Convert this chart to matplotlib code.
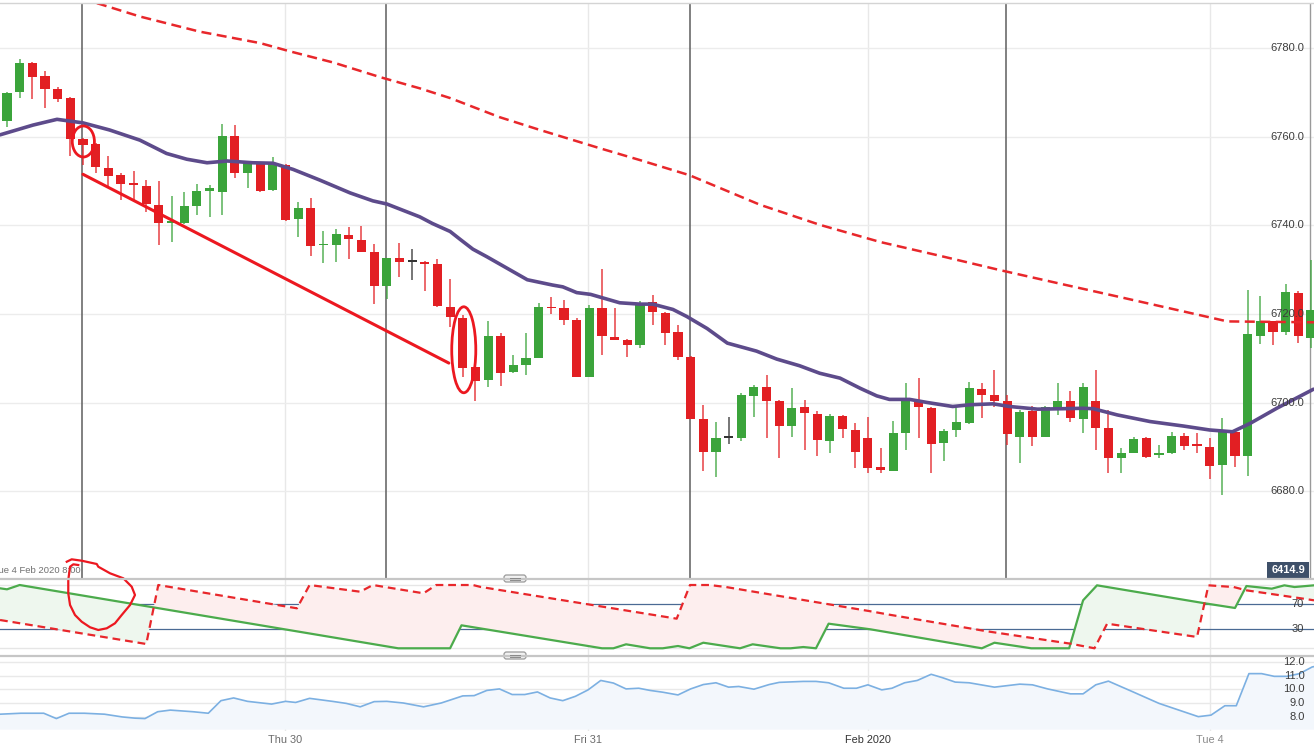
import numpy as np
import matplotlib
matplotlib.use("Agg")
import matplotlib.pyplot as plt
from matplotlib.patches import Ellipse, Rectangle, FancyBboxPatch
from matplotlib.lines import Line2D
from matplotlib.transforms import IdentityTransform

plt.rcParams['font.family'] = ['Liberation Sans', 'DejaVu Sans']

W, H = 1314, 752

# ------------------------------------------------------------
# 数据 (hourly candles, index 0..103)
# ------------------------------------------------------------
opens = [6763.6, 6770.1, 6776.7, 6773.7, 6770.8, 6768.7, 6759.4, 6758.3, 6753.0, 6751.3,
         6749.6, 6748.9, 6744.6, 6740.5, 6740.5, 6744.4, 6747.8, 6747.4, 6760.1, 6751.9,
         6753.8, 6748.0, 6753.6, 6741.4, 6744.0, 6735.5, 6735.6, 6737.8, 6736.7, 6734.0,
         6726.3, 6732.6, 6731.8, 6731.7, 6731.3, 6721.6, 6719.0, 6707.9, 6705.1, 6715.0,
         6706.8, 6708.5, 6710.0, 6721.6, 6721.3, 6718.6, 6705.8, 6721.3, 6714.7, 6714.1,
         6713.0, 6722.7, 6720.3, 6715.9, 6710.2, 6696.2, 6688.9, 6692.0, 6692.1, 6701.4,
         6703.5, 6700.4, 6694.6, 6698.9, 6697.4, 6691.3, 6697.0, 6693.7, 6692.0, 6685.4,
         6684.6, 6693.1, 6700.6, 6698.7, 6690.8, 6693.8, 6695.3, 6703.0, 6701.7, 6700.4,
         6692.3, 6698.1, 6692.3, 6698.5, 6700.4, 6696.2, 6700.4, 6694.3, 6687.4, 6688.6,
         6692.0, 6688.2, 6688.6, 6692.5, 6690.3, 6689.9, 6685.9, 6693.4, 6688.0, 6715.1,
         6718.3, 6715.8, 6724.7, 6714.6]
highs = [6770.0, 6777.5, 6776.9, 6774.7, 6771.1, 6768.9, 6759.6, 6758.5, 6755.6, 6751.7,
         6752.3, 6750.2, 6750.0, 6746.5, 6747.6, 6749.3, 6749.1, 6762.9, 6762.6, 6754.5,
         6754.0, 6755.5, 6753.8, 6745.3, 6746.1, 6738.6, 6739.1, 6739.6, 6739.8, 6735.8,
         6732.6, 6735.9, 6734.6, 6731.9, 6732.4, 6727.8, 6719.8, 6708.1, 6718.3, 6715.6,
         6710.7, 6715.6, 6722.4, 6723.8, 6723.1, 6719.0, 6722.0, 6730.1, 6721.4, 6714.3,
         6722.9, 6724.3, 6720.5, 6717.5, 6710.6, 6699.5, 6695.5, 6696.7, 6702.1, 6704.0,
         6706.2, 6700.6, 6703.2, 6700.6, 6698.0, 6697.4, 6697.2, 6695.3, 6696.8, 6689.7,
         6695.9, 6704.5, 6705.5, 6698.9, 6694.0, 6699.2, 6704.7, 6704.4, 6707.4, 6701.7,
         6698.3, 6699.1, 6699.2, 6704.5, 6702.5, 6704.3, 6707.4, 6698.3, 6689.7, 6692.2,
         6692.2, 6690.4, 6693.4, 6693.2, 6693.1, 6691.9, 6696.5, 6693.6, 6725.4, 6724.1,
         6718.5, 6726.8, 6725.2, 6732.1]
lows = [6762.2, 6768.7, 6768.5, 6766.4, 6767.9, 6755.7, 6753.6, 6751.7, 6748.7, 6745.7,
        6745.7, 6743.1, 6735.6, 6736.3, 6740.3, 6742.3, 6741.9, 6742.3, 6750.6, 6748.3,
        6747.6, 6747.7, 6741.0, 6737.4, 6733.1, 6731.4, 6731.7, 6732.3, 6733.9, 6722.2,
        6723.3, 6728.3, 6727.7, 6725.2, 6721.6, 6717.1, 6705.8, 6700.4, 6703.6, 6703.7,
        6706.6, 6706.2, 6710.0, 6720.0, 6717.5, 6705.8, 6705.8, 6710.7, 6714.0, 6710.2,
        6712.2, 6717.5, 6713.0, 6709.6, 6696.2, 6684.6, 6683.1, 6690.7, 6691.3, 6696.7,
        6692.0, 6687.4, 6692.3, 6689.3, 6688.0, 6688.6, 6692.0, 6685.2, 6684.1, 6684.1,
        6684.6, 6689.2, 6692.0, 6684.1, 6686.7, 6692.2, 6695.1, 6696.5, 6698.9, 6690.4,
        6686.3, 6690.2, 6692.2, 6697.2, 6695.7, 6693.1, 6689.2, 6684.1, 6684.2, 6688.5,
        6687.5, 6687.4, 6688.4, 6689.3, 6688.7, 6682.7, 6679.2, 6685.4, 6683.4, 6713.2,
        6713.0, 6715.3, 6713.4, 6712.3]
closes = [6769.9, 6776.7, 6773.5, 6770.7, 6768.4, 6759.4, 6758.1, 6753.2, 6751.2, 6749.3,
          6749.0, 6744.8, 6740.5, 6740.9, 6744.4, 6747.8, 6748.5, 6760.1, 6751.7, 6754.1,
          6747.8, 6754.0, 6741.2, 6744.0, 6735.3, 6735.8, 6738.0, 6736.8, 6734.0, 6726.3,
          6732.6, 6731.7, 6731.8, 6731.3, 6721.8, 6719.2, 6707.7, 6704.9, 6715.0, 6706.6,
          6708.5, 6710.0, 6721.6, 6721.3, 6718.6, 6705.8, 6721.3, 6714.9, 6714.0, 6713.0,
          6722.0, 6720.5, 6715.6, 6710.2, 6696.2, 6688.9, 6692.0, 6692.0, 6701.7, 6703.5,
          6700.4, 6694.6, 6698.7, 6697.6, 6691.6, 6697.0, 6694.0, 6688.9, 6685.2, 6684.8,
          6693.1, 6700.7, 6698.9, 6690.7, 6693.6, 6695.5, 6703.2, 6701.6, 6700.4, 6692.8,
          6697.9, 6692.2, 6698.9, 6700.4, 6696.5, 6703.5, 6694.2, 6687.4, 6688.6, 6691.7,
          6687.6, 6688.6, 6692.5, 6690.1, 6690.2, 6685.7, 6693.4, 6687.9, 6715.5, 6718.4,
          6715.8, 6724.9, 6714.9, 6720.8]

# 均线 (purple) 与 长周期均线 (red dashed)
ma_x = [-0.55, 2.05, 3.95, 6.0, 8.1, 10.5, 12.6, 14.2, 15.8, 17.4, 19.4, 21.0, 22.6, 24.7,
        27.1, 28.9, 30.0, 32.6, 33.6, 35.0, 35.8, 36.8, 37.9, 39.5, 41.1, 43.1, 43.9, 45.0,
        46.1, 48.4, 50.0, 51.0, 52.6, 53.7, 55.3, 56.9, 59.2, 60.8, 62.6, 64.2, 65.8, 67.4,
        68.7, 69.7, 71.3, 72.7, 74.7, 76.1, 77.9, 79.2, 81.4, 83.4, 85.0, 85.8, 87.7, 90.3,
        92.9, 95.0, 96.8, 98.2, 100.3, 103.2]
ma_v = [6760.4, 6762.6, 6763.9, 6763.1, 6761.5, 6759.2, 6756.2, 6754.9, 6754.1, 6754.5,
        6754.1, 6754.0, 6752.6, 6750.2, 6747.3, 6745.5, 6744.8, 6741.9, 6740.4, 6738.6,
        6736.8, 6734.6, 6732.9, 6730.3, 6727.7, 6726.5, 6726.1, 6724.8, 6724.4, 6722.5,
        6722.2, 6722.2, 6721.0, 6719.4, 6716.7, 6713.4, 6711.6, 6709.8, 6708.3, 6706.6,
        6705.5, 6703.2, 6701.5, 6700.7, 6700.7, 6700.0, 6699.1, 6699.5, 6699.7, 6699.1,
        6698.5, 6698.6, 6698.7, 6698.6, 6697.2, 6695.7, 6694.7, 6693.8, 6693.4, 6695.3,
        6698.7, 6703.0]
slow_x = [5.0, 7.35, 10.5, 15.2, 20.0, 22.4, 25.8, 29.5, 32.6, 35.0, 38.9, 42.1, 46.8,
          50.0, 53.9, 59.5, 64.2, 69.0, 73.7, 78.4, 83.2, 87.9, 92.7, 96.4, 103.24]
slow_v = [6791.8, 6789.9, 6787.1, 6783.7, 6781.1, 6779.2, 6776.7, 6773.4, 6770.9, 6768.7,
          6764.4, 6761.5, 6757.4, 6754.7, 6751.3, 6744.6, 6740.1, 6736.2, 6733.1, 6729.9,
          6726.8, 6723.8, 6720.7, 6718.3, 6718.1]

# 振荡指标 (green solid / red dashed)
osc_g_x = [-0.55, 0.0, 1.0, 30.9, 35.0, 35.9, 47.0, 47.9, 48.9, 50.8, 51.8, 53.0, 53.9,
           55.0, 57.9, 58.9, 61.1, 61.9, 62.9, 63.9, 64.9, 68.2, 77.0, 78.0, 80.9, 83.9,
           85.0, 86.1, 94.8, 97.0, 97.9, 99.9, 100.9, 101.7, 103.24]
osc_g_v = [94.8, 93.2, 100, 0, 0, 36.3, 0, 0, 6.3, 0, 0, 3.6, 0, 8.8, 0, 6.3, 0, 0, 2.0,
           0, 38.9, 30.0, 0, 8.8, 0, 0, 75.8, 99.5, 70.5, 63.7, 98.4, 94.2, 99.5, 96.8, 99.5]
osc_r_x = [-0.55, 11.0, 11.95, 22.9, 23.9, 27.9, 28.9, 32.9, 33.9, 36.8, 37.4, 52.9, 53.95,
           55.5, 56.8, 68.2, 69.7, 77.4, 84.0, 85.9, 86.9, 94.0, 94.9, 96.9, 97.9, 102.4,
           103.24]
osc_r_v = [44.7, 6.8, 100, 63.2, 100, 89.4, 100, 86.9, 100, 100, 97.0, 46.8, 100, 100,
           96.8, 58.5, 53.1, 26.9, 7.3, 0, 38.9, 17.9, 99.5, 96.8, 91.6, 78.4, 75.8]

# 波动率 (bottom panel)
atr_x = [-0.55, 1.1, 2.9, 3.9, 4.9, 6.1, 7.7, 9.1, 10.1, 10.9, 11.9, 12.9, 14.7, 15.9,
         16.9, 17.9, 19.0, 20.9, 22.0, 22.8, 23.9, 25.7, 26.8, 27.9, 29.0, 30.0, 31.3,
         32.9, 34.3, 36.0, 36.9, 37.9, 38.9, 39.9, 40.9, 41.9, 42.9, 43.9, 44.9, 45.9,
         46.9, 47.9, 48.9, 49.9, 50.8, 51.8, 53.0, 54.0, 55.0, 56.0, 57.0, 57.8, 59.0,
         60.2, 61.0, 62.9, 63.9, 64.9, 66.1, 67.1, 68.0, 69.1, 69.9, 70.9, 71.9, 73.0,
         73.9, 74.9, 76.0, 78.0, 80.0, 81.0, 82.2, 84.0, 85.0, 86.0, 87.0, 89.0, 91.0,
         94.1, 95.1, 96.2, 97.1, 98.1, 99.1, 100.1, 101.1, 102.1, 103.1, 103.4]
atr_v = [8.18, 8.25, 8.25, 7.86, 8.25, 8.25, 8.18, 7.98, 7.89, 7.86, 8.36, 8.48, 8.36,
         8.25, 9.17, 9.37, 9.12, 8.92, 9.12, 9.04, 9.34, 9.12, 8.97, 8.72, 9.10, 9.12,
         9.0, 8.72, 9.0, 9.52, 9.54, 9.92, 10.03, 9.62, 9.62, 9.81, 9.37, 9.17, 9.49,
         9.96, 10.65, 10.46, 10.03, 10.08, 9.92, 9.79, 9.59, 10.03, 10.35, 10.48, 10.16,
         10.21, 10.01, 10.35, 10.51, 10.58, 10.58, 10.48, 10.08, 10.08, 10.33, 9.96,
         10.08, 10.48, 10.65, 11.10, 10.85, 10.53, 10.48, 10.16, 10.38, 10.33, 10.03,
         9.67, 9.67, 10.33, 10.60, 9.79, 8.97, 8.0, 8.11, 8.80, 8.80, 11.15, 11.15,
         10.95, 10.95, 11.15, 11.64, 11.69]

price_ticks = [6680, 6700, 6720, 6740, 6760, 6780]
osc_levels = [70, 30]
atr_ticks = [12.0, 11.0, 10.0, 9.0, 8.0]
date_pos = [21.96, 45.9, 68.0, 95.0]
date_labels = ['Thu 30', 'Fri 31', 'Feb 2020', 'Tue 4']
session_pos = [5.93, 29.94, 53.95, 78.9]

# 手绘标注 (red pen)
trend_x = [6.0, 34.9]
trend_v = [6751.5, 6708.9]
loop_x = [4.72, 5.11, 5.90, 7.09, 7.21, 8.14, 9.19, 9.85, 10.11, 9.72, 9.06, 8.53, 7.88,
          7.21, 6.56, 5.90, 5.37, 4.98, 4.84, 4.84, 4.98, 5.24, 5.63]
loop_v = [136.8, 140.6, 138.4, 133.2, 128.9, 118.5, 110.6, 97.3, 84.2, 68.4, 52.6, 39.5,
          31.6, 28.9, 33.2, 42.0, 52.6, 68.4, 86.9, 107.9, 128.9, 132.7, 131.6]

RED = '#e21f23'
GREEN = '#3ba43b'
PEN = '#ec1820'


def px_rect(x0, y0, x1, y1):
    return [x0 / W, 1 - y1 / H, (x1 - x0) / W, (y1 - y0) / H]


fig = plt.figure(figsize=(W / 100, H / 100), dpi=100)
fig.patch.set_facecolor('white')

ax = fig.add_axes(px_rect(0, 3, W, 578))
ax_osc = fig.add_axes(px_rect(0, 579, W, 655))
ax_atr = fig.add_axes(px_rect(0, 656, W, 731))

for a in (ax, ax_osc, ax_atr):
    a.set_xlim(-0.553, 103.24)
    a.set_xticks([])
    a.set_yticks([])
    for s in a.spines.values():
        s.set_visible(False)
    for d in date_pos:
        a.axvline(d, color='#e8e8e8', lw=1, zorder=0)

ax.set_ylim(6660.4, 6790.15)
ax_osc.set_ylim(-10.6, 109.5)
ax_atr.set_ylim(6.95, 12.44)

# ------------------------------------------------------------
# 主图: 网格 + 蜡烛
# ------------------------------------------------------------
for p in price_ticks:
    ax.axhline(p, color='#ececec', lw=1, zorder=0)
    ax.text(1304 / W, p, f'{p:.1f}', transform=ax.get_yaxis_transform(),
            ha='right', va='center', fontsize=8, color='#3c3c3c', zorder=7)
for s in session_pos:
    ax.axvline(s, color='#5e5e5e', lw=1.1, zorder=1)
ax.axvline(102.92, color='#9a9a9a', lw=1, zorder=1)

idx = np.arange(len(opens))
o = np.array(opens)
c = np.array(closes)
colors = np.where(c > o, GREEN, np.where(c < o, RED, '#333333'))
bottoms = np.minimum(o, c)
heights = np.maximum(np.abs(c - o), 0.35)
ax.vlines(idx, lows, highs, colors=colors, lw=1.1, alpha=0.85, zorder=3)
ax.bar(idx, heights, bottom=bottoms, width=0.72, color=colors, linewidth=0, zorder=3)

ax.plot(ma_x, ma_v, color='#5d4b8b', lw=2.6, zorder=4, solid_capstyle='round')
ax.plot(slow_x, slow_v, color='#e8272b', lw=1.8, ls=(0, (4, 2.2)), zorder=4)

# 手绘标注
ax.plot(trend_x, trend_v, color=PEN, lw=2.2, zorder=5, solid_capstyle='round')
ax.add_patch(Ellipse((6.03, 6758.9), 1.75, 7.0, fill=False, ec=PEN, lw=2, zorder=5))
ax.add_patch(Ellipse((36.08, 6711.9), 1.9, 19.4, fill=False, ec=PEN, lw=2, zorder=5))

# crosshair 时间标签 (左侧被截断, 与原图一致)
ax.text(5.85, 0.013, 'Tue 4 Feb 2020 8:00', transform=ax.get_xaxis_transform(),
        ha='right', va='center', fontsize=6.8, color='#707070', zorder=6)

# ------------------------------------------------------------
# 振荡指标
# ------------------------------------------------------------
for lv in (100, 0):
    ax_osc.axhline(lv, color='#e6e6e6', lw=1, zorder=0)
for lv in osc_levels:
    ax_osc.axhline(lv, color='#4a6a94', lw=0.9, zorder=1)
    ax_osc.text(1304 / W, lv, str(lv), transform=ax_osc.get_yaxis_transform(),
                ha='right', va='center', fontsize=8, color='#3c3c3c', zorder=7)

grid = np.union1d(np.linspace(-0.553, 103.24, 2000), np.union1d(osc_g_x, osc_r_x))
g_i = np.interp(grid, osc_g_x, osc_g_v)
r_i = np.interp(grid, osc_r_x, osc_r_v)
ax_osc.fill_between(grid, g_i, r_i, where=g_i >= r_i, color='#eef7ee', lw=0,
                    interpolate=True, zorder=1)
ax_osc.fill_between(grid, g_i, r_i, where=r_i > g_i, color='#fdeeee', lw=0,
                    interpolate=True, zorder=1)
ax_osc.plot(osc_g_x, osc_g_v, color='#4cab4c', lw=1.6, zorder=3)
ax_osc.plot(osc_r_x, osc_r_v, color='#e8272b', lw=1.6, ls=(0, (3.5, 2.2)), zorder=3)
ax_osc.plot(loop_x, loop_v, color=PEN, lw=1.6, zorder=10, clip_on=False)

# ------------------------------------------------------------
# 底部面板
# ------------------------------------------------------------
for t in atr_ticks:
    ax_atr.axhline(t, color='#e9e9e9', lw=1, zorder=0)
    ax_atr.text(1305 / W, t, f'{t:.1f}', transform=ax_atr.get_yaxis_transform(),
                ha='right', va='center', fontsize=8, color='#3c3c3c', zorder=7)
ax_atr.fill_between(atr_x, atr_v, 7.05, color='#f3f7fc', lw=0, zorder=1)
ax_atr.plot(atr_x, atr_v, color='#7cb0e2', lw=1.2, zorder=3)

date_colors = ['#6a6a6a', '#6a6a6a', '#333333', '#8a8a8a']
for d, lab, col in zip(date_pos, date_labels, date_colors):
    ax_atr.text(d, -0.12, lab, transform=ax_atr.get_xaxis_transform(), ha='center',
                va='center', fontsize=7.8, color=col, clip_on=False)

# ------------------------------------------------------------
# 面板边框 / 分隔把手 / 价格标签
# ------------------------------------------------------------
for y, col, lw in ((3, '#d4d4d4', 1.0), (578.5, '#c6c6c6', 1.6), (655.5, '#c6c6c6', 1.6)):
    fig.add_artist(Line2D([0, 1], [1 - y / H, 1 - y / H], transform=fig.transFigure,
                          color=col, lw=lw))

ident = IdentityTransform()
for yc in (578.5, 655.5):
    fig.add_artist(FancyBboxPatch((504, H - yc - 3.5), 22, 7,
                                  boxstyle='round,pad=0,rounding_size=2.5',
                                  transform=ident, fc='#f2f2f2', ec='#9a9a9a', lw=0.9))
    for dy in (-1, 1):
        fig.add_artist(Line2D([510, 520], [H - yc + dy, H - yc + dy], transform=ident,
                              color='#8a8a8a', lw=0.7))

fig.add_artist(Rectangle((1266.7, H - 577.7), 42.6, 16, transform=ident,
                         fc='#3e5069', ec='none'))
fig.text(1288 / W, 1 - 569.7 / H, '6414.9', ha='center', va='center', fontsize=7.9,
         color='white', fontweight='bold')

fig.savefig('out.png', dpi=100, facecolor='white')
plt.close(fig)
